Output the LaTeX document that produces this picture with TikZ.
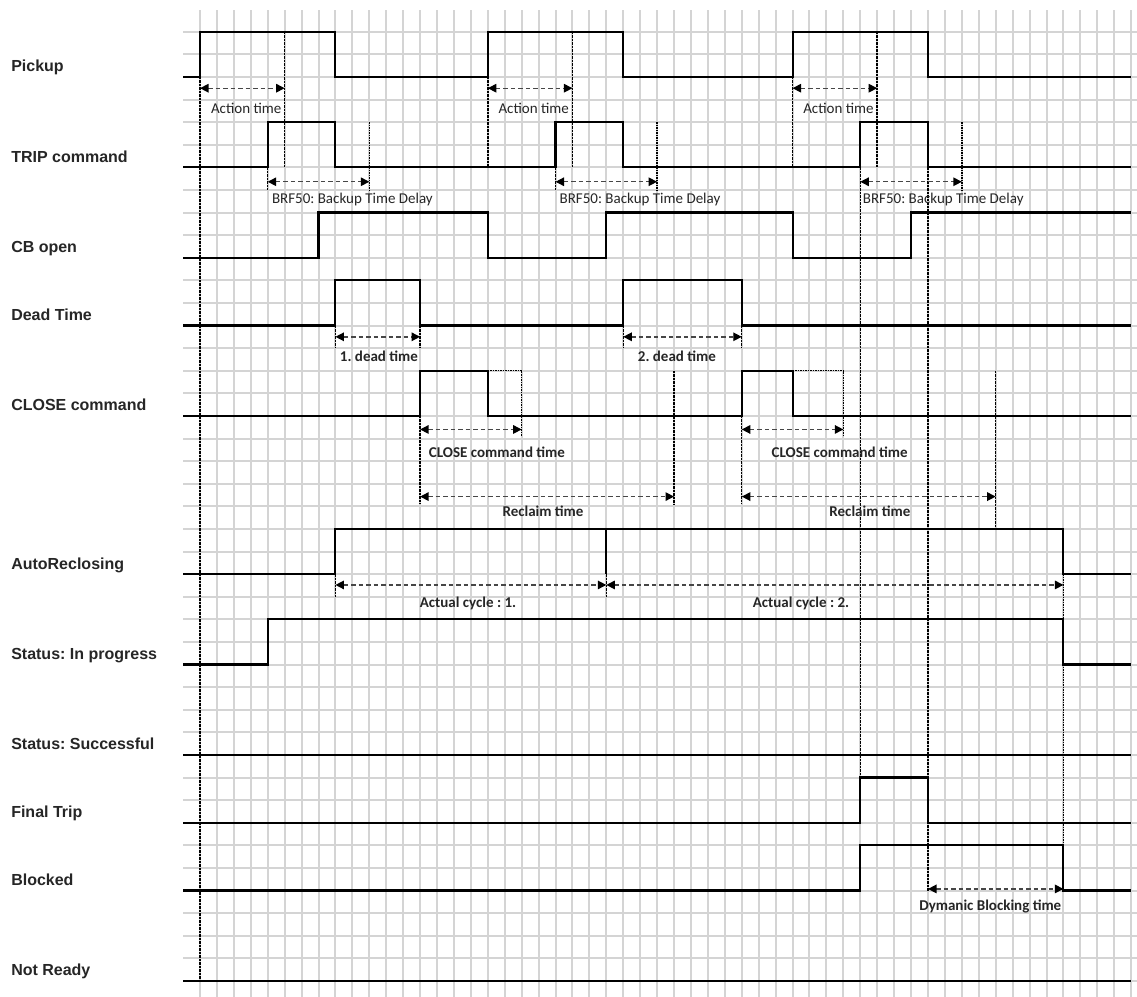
\documentclass[tikz,border=0pt]{standalone}
\usepackage{fontspec}
\newfontfamily\lblfont{Liberation Sans}
\newfontfamily\annfont{Carlito}
\usetikzlibrary{arrows.meta}
\definecolor{gridc}{RGB}{212,212,212}
\definecolor{dimc}{RGB}{70,70,70}
\tikzset{
  gridl/.style={draw=gridc, line width=2pt},
  sig/.style={draw=black, line width=2.1pt, line join=miter},
  sigdot/.style={draw=black, line width=1.4pt, dash pattern=on 1.5pt off 1pt},
  vline/.style={draw=black, line width=1.4pt, dash pattern=on 2.5pt off 1pt},
  dimarrow/.style={draw=dimc, line width=1.4pt, dash pattern=on 4.5pt off 3pt,
    {Triangle[length=8.5pt,width=8.5pt,color=black]}-{Triangle[length=8.5pt,width=8.5pt,color=black]}},
  lbl/.style={font=\lblfont\bfseries\fontsize{16}{18}\selectfont, anchor=base west, inner sep=0pt, text=black!85},
  ann/.style={font=\annfont\fontsize{15}{17}\selectfont, anchor=base, inner sep=0pt, text=black!85},
  annb/.style={font=\annfont\bfseries\fontsize{15}{17}\selectfont, anchor=base, inner sep=0pt, text=black!85},
}
\begin{document}
\frenchspacing
\begin{tikzpicture}[x=16.93pt, y=-22.6pt]
\useasboundingbox[fill=white] (-200pt,31.7pt) rectangle (937pt,-964.3pt);
% grid
\foreach \k in {0,...,42} \draw[gridl] (-1,\k) -- (55.4,\k);
\foreach \c in {0,...,55} \draw[gridl] (\c,-0.96) -- (\c,42.7);

% signals
\draw[sig] (-1,2)--(0,2)--(0,0)--(8,0)--(8,2)--(17,2)--(17,0)--(25,0)--(25,2)--(35,2)--(35,0)--(43,0)--(43,2)--(55,2);
\draw[sig] (-1,6)--(4,6)--(4,4)--(8,4)--(8,6)--(21,6)--(21,4)--(25,4)--(25,6)--(39,6)--(39,4)--(43,4)--(43,6)--(55,6);
\draw[sig] (-1,10)--(7,10)--(7,8)--(17,8)--(17,10)--(24,10)--(24,8)--(35,8)--(35,10)--(42,10)--(42,8)--(55,8);
\draw[sig] (-1,13)--(8,13)--(8,11)--(13,11)--(13,13)--(25,13)--(25,11)--(32,11)--(32,13)--(55,13);
\draw[sig] (-1,17)--(13,17)--(13,15)--(17,15)--(17,17)--(32,17)--(32,15)--(35,15)--(35,17)--(55,17);
\draw[sigdot] (17,15)--(19,15)--(19,17.9);
\draw[sigdot] (35,15)--(38,15)--(38,17.9);
\draw[sig] (-1,24)--(8,24)--(8,22)--(51,22)--(51,24)--(55,24);
\draw[sig] (24,22)--(24,24);
\draw[sig] (-1,28)--(4,28)--(4,26)--(51,26)--(51,28)--(55,28);
\draw[sig] (-1,32)--(55,32);
\draw[sig] (-1,35)--(39,35)--(39,33)--(43,33)--(43,35)--(55,35);
\draw[sig] (-1,38)--(39,38)--(39,36)--(51,36)--(51,38)--(55,38);
\draw[sig] (-1,42)--(55,42);

% dashed vertical marker lines
\draw[vline] (0,2)--(0,42);
\draw[vline] (5,0)--(5,6);
\draw[vline] (17,2)--(17,6);
\draw[vline] (22,0)--(22,6);
\draw[vline] (35,2)--(35,6);
\draw[vline, line width=2pt] (40,0)--(40,6);
\draw[vline] (4,6)--(4,7);
\draw[vline] (21,6)--(21,7);
\draw[sigdot] (10,4)--(10,7);
\draw[sigdot] (27,4)--(27,7);
\draw[sigdot] (45,4)--(45,7);
\draw[vline] (39,6)--(39,33);
\draw[vline] (43,6)--(43,38);
\draw[vline] (8,13)--(8,14);
\draw[vline] (13,13)--(13,14);
\draw[vline] (25,13)--(25,14);
\draw[vline] (32,13)--(32,14);
\draw[vline] (13,17)--(13,20.9);
\draw[vline] (32,17)--(32,20.9);
\draw[vline] (28,15)--(28,20.9);
\draw[vline] (47,15)--(47,22);
\draw[vline] (8,24)--(8,25);
\draw[vline] (24,24)--(24,25);
\draw[sigdot] (51,24)--(51,36);

% dimension arrows
\draw[dimarrow] (0,2.5)--(5,2.5);
\draw[dimarrow] (17,2.5)--(22,2.5);
\draw[dimarrow] (35,2.5)--(40,2.5);
\draw[dimarrow] (4,6.64)--(10,6.64);
\draw[dimarrow] (21,6.64)--(27,6.64);
\draw[dimarrow] (39,6.64)--(45,6.64);
\draw[dimarrow] (8,13.5)--(13,13.5);
\draw[dimarrow] (25,13.5)--(32,13.5);
\draw[dimarrow] (13,17.6)--(19,17.6);
\draw[dimarrow] (32,17.6)--(38,17.6);
\draw[dimarrow] (13,20.57)--(28,20.57);
\draw[dimarrow] (32,20.57)--(47,20.57);
\draw[dimarrow] (8,24.48)--(24,24.48);
\draw[dimarrow] (24,24.48)--(51,24.48);
\draw[dimarrow] (43,37.93)--(51,37.93);

% annotation texts
\node[ann] (at1) at (2.73,3.61) {Action time};
\node[ann] (at2) at (19.71,3.61) {Action time};
\node[ann] (at3) at (37.71,3.61) {Action time};
\node[ann] (bt1) at (9.0,7.62) {BRF50: Backup Time Delay};
\node[ann] (bt2) at (25.99,7.62) {BRF50: Backup Time Delay};
\node[ann] (bt3) at (43.9,7.62) {BRF50: Backup Time Delay};
\node[annb] (dt1) at (10.57,14.6) {1. dead time};
\node[annb] (dt2) at (28.17,14.6) {2. dead time};
\node[annb] (cc1) at (17.54,18.83) {CLOSE command time};
\node[annb] (cc2) at (37.78,18.83) {CLOSE command time};
\node[annb] (rt1) at (20.26,21.46) {Reclaim time};
\node[annb] (rt2) at (39.57,21.46) {Reclaim time};
\node[annb] (ac1) at (15.83,25.47) {Actual cycle : 1.};
\node[annb] (ac2) at (35.5,25.47) {Actual cycle : 2.};
\node[annb] (db) at (46.68,38.9) {Dymanic Blocking time};

% signal labels
\node[lbl] (l1) at (-11.16,1.78) {Pickup};
\node[lbl] (l2) at (-11.16,5.78) {TRIP command};
\node[lbl] (l3) at (-11.16,9.78) {CB open};
\node[lbl] (l4) at (-11.16,12.78) {Dead Time};
\node[lbl] (l5) at (-11.16,16.78) {CLOSE command};
\node[lbl] (l6) at (-11.16,23.78) {AutoReclosing};
\node[lbl] (l7) at (-11.16,27.78) {Status: In progress};
\node[lbl] (l8) at (-11.16,31.78) {Status: Successful};
\node[lbl] (l9) at (-11.16,34.78) {Final Trip};
\node[lbl] (l10) at (-11.16,37.78) {Blocked};
\node[lbl] (l11) at (-11.16,41.78) {Not Ready};
\end{tikzpicture}
\end{document}
